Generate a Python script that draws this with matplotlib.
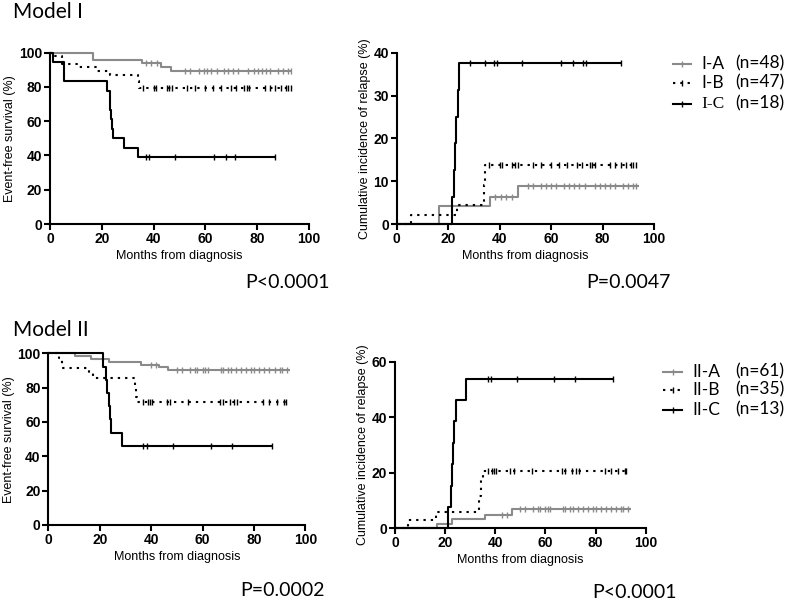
import numpy as np
import matplotlib
matplotlib.use("Agg")
import matplotlib.pyplot as plt
from matplotlib.lines import Line2D

W, H = 786, 604

# ---------------- data ----------------
# Model I, event-free survival (%)
efs1_A_t = [0, 16.5, 35.5, 43.0, 46.8]
efs1_A_v = [100, 95.8, 93.7, 91.6, 89.4]
efs1_A_c = [37, 38.9, 41.2, 52.2, 54.1, 57.6, 59.3, 60.8, 62.2, 64.4, 67.2, 68.9, 70.5,
            72.4, 76.6, 78.8, 80.5, 81.8, 83.4, 84.8, 88.2, 89.9, 91.7, 93.0]
efs1_A_end = 93.5
efs1_B_t = [0, 1.9, 4.5, 10.6, 18.0, 23.2, 33.8, 34.3]
efs1_B_v = [100, 97.9, 93.6, 91.5, 89.4, 87.2, 83.4, 79.6]
efs1_B_c = [36, 40, 41, 45, 46, 47, 53, 56, 60, 63, 66, 70, 72, 75, 76, 77, 83, 85, 87,
            89, 91, 92, 93]
efs1_B_end = 93.5
efs1_C_t = [0, 1.3, 5.3, 22.0, 23.0, 23.2, 23.5, 24.0, 24.3, 28.5, 34.0]
efs1_C_v = [100, 94.4, 83.3, 77.8, 72.2, 66.7, 61.1, 55.6, 50.0, 44.4, 38.9]
efs1_C_c = [37, 38.3, 48.3, 63.5, 68, 71.5, 86.7]
efs1_C_end = 86.7

# Model I, cumulative incidence of relapse (%)
cir1_A_t = [0, 16.6, 36.3, 47.0]
cir1_A_v = [0, 4.2, 6.2, 8.9]
cir1_A_c = [38.1, 40.5, 42.6, 44.7, 51, 53, 56, 58, 60, 62, 65, 67, 69, 71, 73, 77,
            79, 81, 83, 85, 88, 90, 92, 93]
cir1_A_end = 94
cir1_B_t = [0, 5.4, 23.3, 33.8, 34.3]
cir1_B_v = [0, 2.1, 4.5, 9.0, 13.7]
cir1_B_c = [36, 40, 41, 45, 46, 47, 53, 56, 60, 63, 66, 70, 72, 75, 76, 77, 83, 85, 87,
            89, 91, 92, 93]
cir1_B_end = 93.5
cir1_C_t = [0, 21.4, 22.3, 22.8, 23.2, 23.8, 24.4]
cir1_C_v = [0, 6.3, 12.5, 18.8, 25.0, 31.3, 37.5]
cir1_C_c = [28.5, 34.3, 37.9, 38.9, 48.6, 63.7, 68.6, 72.3, 73.6, 87]
cir1_C_end = 87

# Model II, event-free survival (%)
efs2_A_t = [0, 10.5, 16.5, 23.5, 36.0, 43.0, 46.5]
efs2_A_v = [100, 98.4, 96.7, 95.1, 93.4, 91.8, 90.2]
efs2_A_c = [40, 42, 50, 52, 55, 57, 58, 60, 61, 62, 67, 68, 70, 71, 73, 75, 77, 79, 80,
            82, 84, 86, 88, 90, 91, 93]
efs2_A_end = 94
efs2_B_t = [0, 4.3, 5.2, 16.0, 17.5, 33.6, 34.0, 34.4]
efs2_B_v = [100, 97.1, 91.4, 88.6, 85.7, 80.0, 74.3, 71.4]
efs2_B_c = [37, 38.6, 39.5, 40.2, 46, 47.3, 54.5, 66.8, 67.8, 70.7, 72.2, 73.5, 83.6,
            86, 88.8, 91.7, 92.3]
efs2_B_end = 92.5
efs2_C_t = [0, 21.3, 22.5, 23.0, 23.5, 24.0, 24.5, 28.5]
efs2_C_v = [100, 92.3, 84.6, 76.9, 69.2, 61.5, 53.8, 46.2]
efs2_C_c = [36.7, 38.3, 48.4, 63.3, 71.6, 86.9]
efs2_C_end = 86.9

# Model II, cumulative incidence of relapse (%)
cir2_A_t = [0, 16.6, 22.9, 35.9, 46.8]
cir2_A_v = [0, 1.6, 3.3, 4.9, 6.9]
cir2_A_c = [42.6, 44.6, 50, 52, 55, 57, 58, 60, 61, 62, 67, 68, 70, 71, 73, 75, 77, 79,
            80, 82, 84, 86, 88, 90, 91, 93]
cir2_A_end = 94
cir2_B_t = [0, 5.3, 16.4, 33.6, 34.3, 35.0]
cir2_B_v = [0, 2.9, 5.9, 11.8, 17.6, 20.6]
cir2_B_c = [37, 38.6, 39.5, 40.2, 46, 47.3, 54.5, 66.8, 67.8, 70.7, 72.2, 73.5, 83.6,
            86, 88.8, 91.7, 92.3]
cir2_B_end = 92.5
cir2_C_t = [0, 21.3, 22.3, 22.8, 23.2, 23.6, 24.2, 28.3]
cir2_C_v = [0, 7.7, 15.4, 23.1, 30.8, 38.5, 46.2, 53.8]
cir2_C_c = [37, 38.3, 48.8, 63.5, 71.8, 87.1]
cir2_C_end = 87.1

groups1 = ["I-A", "I-B", "I-C"]
counts1 = ["(n=48)", "(n=47)", "(n=18)"]
groups2 = ["II-A", "II-B", "II-C"]
counts2 = ["(n=61)", "(n=35)", "(n=13)"]
titles = ["Model I", "Model II"]
pvals = ["P<0.0001", "P=0.0047", "P=0.0002", "P<0.0001"]
xticks = [0, 20, 40, 60, 80, 100]
yticks_efs = [0, 20, 40, 60, 80, 100]
yticks_cir1 = [0, 10, 20, 30, 40]
yticks_cir2 = [0, 20, 40, 60]

# ---------------- style ----------------
GRAY = "#8a8a8a"
styles = [dict(color=GRAY, ls="-"),
          dict(color="black", ls=(0, (1.1, 2.4))),
          dict(color="black", ls="-")]
LW = 1.5
TICKFONT = dict(family="Liberation Sans", weight="bold", size=10)
LABFONT = "Liberation Sans"
TXTFONT = "Lato"

fig = plt.figure(figsize=(W / 100, H / 100), dpi=100)


def px_ax(x0, x1, ytop, ybot):
    return fig.add_axes([x0 / W, 1 - ybot / H, (x1 - x0) / W, (ybot - ytop) / H])


def draw_series(ax, t, v, c, end, st):
    xs = list(t) + [end]
    ys = list(v) + [v[-1]]
    ax.step(xs, ys, where="post", color=st["color"], ls=st["ls"], lw=LW,
            solid_capstyle="butt", clip_on=False, zorder=3)
    ta = np.array(t)
    idx = np.searchsorted(ta, np.array(c), side="right") - 1
    cy = np.array(v)[idx]
    ax.plot(c, cy, ls="none", marker="|", ms=4.5, mew=1.0, color=st["color"],
            clip_on=False, zorder=3)


def style_ax(ax, yticks, ylabel, ymax):
    ax.set_xlim(0, 100)
    ax.set_ylim(0, ymax)
    ax.set_xticks(xticks)
    ax.set_yticks(yticks)
    for s in ["top", "right"]:
        ax.spines[s].set_visible(False)
    for s in ["left", "bottom"]:
        ax.spines[s].set_linewidth(1.5)
    ax.tick_params(direction="out", length=4, width=1.5, pad=1.5)
    for lab in ax.get_xticklabels() + ax.get_yticklabels():
        lab.set_fontfamily(TICKFONT["family"])
        lab.set_fontweight(TICKFONT["weight"])
        lab.set_fontsize(TICKFONT["size"])
    ax.set_xlabel("Months from diagnosis", fontsize=9, family=LABFONT, labelpad=3)
    ax.set_ylabel(ylabel, fontsize=9, family=LABFONT, labelpad=2)
    ax.patch.set_visible(False)


panels = [
    (px_ax(50, 309, 52.7, 224), yticks_efs, "Event-free survival (%)", 100,
     [(efs1_A_t, efs1_A_v, efs1_A_c, efs1_A_end),
      (efs1_B_t, efs1_B_v, efs1_B_c, efs1_B_end),
      (efs1_C_t, efs1_C_v, efs1_C_c, efs1_C_end)]),
    (px_ax(396.7, 654, 52.7, 224), yticks_cir1, "Cumulative incidence of relapse (%)", 40,
     [(cir1_A_t, cir1_A_v, cir1_A_c, cir1_A_end),
      (cir1_B_t, cir1_B_v, cir1_B_c, cir1_B_end),
      (cir1_C_t, cir1_C_v, cir1_C_c, cir1_C_end)]),
    (px_ax(48.3, 305.4, 353.3, 525), yticks_efs, "Event-free survival (%)", 100,
     [(efs2_A_t, efs2_A_v, efs2_A_c, efs2_A_end),
      (efs2_B_t, efs2_B_v, efs2_B_c, efs2_B_end),
      (efs2_C_t, efs2_C_v, efs2_C_c, efs2_C_end)]),
    (px_ax(395, 645.7, 361.7, 528.3), yticks_cir2, "Cumulative incidence of relapse (%)", 60,
     [(cir2_A_t, cir2_A_v, cir2_A_c, cir2_A_end),
      (cir2_B_t, cir2_B_v, cir2_B_c, cir2_B_end),
      (cir2_C_t, cir2_C_v, cir2_C_c, cir2_C_end)]),
]

for ax, yt, ylab, ymax, series in panels:
    for (t, v, c, end), st in zip(series, styles):
        draw_series(ax, t, v, c, end, st)
    style_ax(ax, yt, ylab, ymax)


def ftext(x, y, s, **kw):
    fig.text(x / W, 1 - y / H, s, **kw)


# titles
ftext(13, 12, titles[0], fontsize=15, family=TXTFONT, va="center", ha="left")
ftext(13, 330, titles[1], fontsize=15, family=TXTFONT, va="center", ha="left")

# p-values
ftext(245, 282, pvals[0], fontsize=14, family=TXTFONT, va="center", ha="left")
ftext(586, 283, pvals[1], fontsize=14, family=TXTFONT, va="center", ha="left")
ftext(240, 590, pvals[2], fontsize=14, family=TXTFONT, va="center", ha="left")
ftext(592, 592, pvals[3], fontsize=14, family=TXTFONT, va="center", ha="left")


# legends
def legend(rows_y, line_x, lab_x, n_x, groups, counts, fams):
    for yy, g, n, st, fam in zip(rows_y, groups, counts, styles, fams):
        ln = Line2D([line_x[0] / W, line_x[1] / W], [1 - yy / H, 1 - yy / H],
                    transform=fig.transFigure, color=st["color"], ls=st["ls"], lw=LW)
        fig.add_artist(ln)
        mk = Line2D([(line_x[0] + line_x[1]) / 2 / W], [1 - yy / H], transform=fig.transFigure,
                    ls="none", marker="|", ms=4.5, mew=1.0, color=st["color"])
        fig.add_artist(mk)
        ftext(lab_x, yy, g, fontsize=12.5, family=fam, va="center", ha="left")
        ftext(n_x, yy - 1, n, fontsize=12.5, family=TXTFONT, va="center", ha="left")


legend([64, 83, 104], (673, 691), 701, 735, groups1, counts1,
       [TXTFONT, TXTFONT, "Liberation Serif"])
legend([372, 390, 410], (663, 682), 692, 735, groups2, counts2,
       [TXTFONT, TXTFONT, TXTFONT])

fig.savefig("out.png", dpi=100)
